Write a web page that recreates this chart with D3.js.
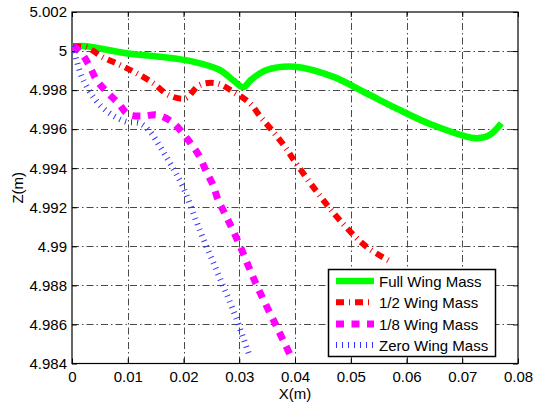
<!DOCTYPE html>
<html>
<head>
<meta charset="utf-8">
<script src="https://cdn.jsdelivr.net/npm/d3@7"></script>
<style>
  body{margin:0;background:#fff;}
  svg text{font-family:"Liberation Sans",Arial,sans-serif;fill:#000;}
</style>
</head>
<body>
<div id="chart"></div>
<script>
const xTicks=[0,0.01,0.02,0.03,0.04,0.05,0.06,0.07,0.08];
const yTicks=[4.984,4.986,4.988,4.99,4.992,4.994,4.996,4.998,5,5.002];

const seriesNames=["Full Wing Mass","1/2 Wing Mass","1/8 Wing Mass","Zero Wing Mass"];

const fullX=[0.0002,0.002,0.0098,0.0158,0.0217,0.0265,0.0290,0.0307,0.0322,0.0349,0.0400,0.0468,0.0528,0.0588,0.0647,0.0725,0.0749,0.0770];
const fullY=[5.00022,5.00026,4.99989,4.99971,4.99946,4.99903,4.99848,4.99815,4.99855,4.99903,4.99920,4.99869,4.99784,4.99698,4.99621,4.99553,4.99570,4.99630];

const halfX=[0.0002,0.0026,0.0056,0.0086,0.0116,0.0146,0.0173,0.0203,0.0229,0.0259,0.0289,0.0319,0.0340,0.0361,0.0382,0.0400,0.0439,0.0480,0.0528,0.0573];
const halfY=[5.00025,5.00019,4.99968,4.99929,4.99886,4.99835,4.99775,4.99758,4.99826,4.99835,4.99792,4.99733,4.99656,4.99587,4.99510,4.99433,4.99280,4.99135,4.98998,4.98920];

const eighthX=[0.0002,0.0017,0.0032,0.0044,0.0062,0.0083,0.0101,0.0128,0.0152,0.0179,0.0199,0.0215,0.0229,0.0241,0.0253,0.0262,0.0274,0.0298,0.0331,0.0367,0.0394];
const eighthY=[5.00026,4.99989,4.99920,4.99852,4.99792,4.99733,4.99676,4.99667,4.99673,4.99638,4.99579,4.99519,4.99459,4.99382,4.99314,4.99237,4.99169,4.99024,4.98802,4.98589,4.98428];

const zeroX=[0.0002,0.0008,0.0020,0.0038,0.0056,0.0077,0.0098,0.0122,0.0140,0.0158,0.0176,0.0199,0.0229,0.0259,0.0289,0.0319];
const zeroY=[5.00026,4.99954,4.99852,4.99766,4.99707,4.99664,4.99638,4.99630,4.99587,4.99510,4.99425,4.99305,4.99084,4.98879,4.98674,4.98435];

const w=533, h=404;
const pLeft=72, pRight=518, pTop=12, pBottom=363.5;

const xScale=d3.scaleLinear().domain([0,0.08]).range([pLeft,pRight]);
const yScale=d3.scaleLinear().domain([4.984,5.002]).range([pBottom,pTop]);

const svg=d3.select("#chart").append("svg").attr("width",w).attr("height",h);

// grid
const grid=svg.append("g").attr("stroke","#4a4a4a").attr("stroke-width",1).attr("stroke-dasharray","7,3,1.5,3");
grid.selectAll("line.gx").data(xTicks.slice(1,-1)).enter().append("line")
    .attr("x1",d=>Math.round(xScale(d))+0.5).attr("x2",d=>Math.round(xScale(d))+0.5)
    .attr("y1",pBottom).attr("y2",pTop);
grid.selectAll("line.gy").data(yTicks.slice(1,-1)).enter().append("line")
    .attr("y1",d=>Math.round(yScale(d))+0.5).attr("y2",d=>Math.round(yScale(d))+0.5)
    .attr("x1",pLeft).attr("x2",pRight);

// axes
const fmt=d=>d3.format("")(+d.toFixed(3));
const xAxis=d3.axisBottom(xScale).tickValues(xTicks).tickSizeInner(-5).tickSizeOuter(0).tickPadding(7.5).tickFormat(fmt);
const yAxis=d3.axisLeft(yScale).tickValues(yTicks).tickSizeInner(-5).tickSizeOuter(0).tickPadding(5).tickFormat(fmt);
const xTop=d3.axisTop(xScale).tickValues(xTicks).tickSizeInner(-5).tickSizeOuter(0).tickFormat("");
const yRight=d3.axisRight(yScale).tickValues(yTicks).tickSizeInner(-5).tickSizeOuter(0).tickFormat("");

const gx=svg.append("g").attr("transform",`translate(0,${pBottom})`).call(xAxis);
const gy=svg.append("g").attr("transform",`translate(${pLeft},0)`).call(yAxis);
svg.append("g").attr("transform",`translate(0,${pTop})`).call(xTop);
svg.append("g").attr("transform",`translate(${pRight},0)`).call(yRight);
svg.selectAll(".domain").remove();
svg.selectAll(".tick line").attr("stroke","#000");
gx.selectAll("text").style("font-size","15px");
gy.selectAll("text").style("font-size","15px");

svg.append("rect").attr("x",pLeft).attr("y",pTop).attr("width",pRight-pLeft).attr("height",pBottom-pTop)
    .attr("fill","none").attr("stroke","#000").attr("stroke-width",1.2);

// clip
svg.append("clipPath").attr("id","clip").append("rect")
    .attr("x",pLeft).attr("y",pTop).attr("width",pRight-pLeft).attr("height",pBottom-pTop);

const styles=[
  {color:"#00ff00",width:6.5,dash:null},
  {color:"#ff0000",width:6,dash:"8,5,1,5"},
  {color:"#ff00ff",width:7,dash:"8,7.5"},
  {color:"#3333ff",width:6,dash:"1,5"}
];
const series=[
  d3.zip(fullX,fullY),
  d3.zip(halfX,halfY),
  d3.zip(eighthX,eighthY),
  d3.zip(zeroX,zeroY)
];

const line=d3.line().x(d=>xScale(d[0])).y(d=>yScale(d[1])).curve(d3.curveCatmullRom.alpha(0.5));
const plot=svg.append("g").attr("clip-path","url(#clip)");
series.forEach((s,i)=>{
  plot.append("path").datum(s).attr("d",line)
      .attr("fill","none")
      .attr("stroke",styles[i].color)
      .attr("stroke-width",styles[i].width)
      .attr("stroke-dasharray",styles[i].dash)
      .attr("stroke-linejoin","round");
});

// labels
svg.append("text").text("X(m)").attr("x",(pLeft+pRight)/2).attr("y",399)
    .attr("text-anchor","middle").style("font-size","15px");
svg.append("text").text("Z(m)").attr("transform",`translate(23,${(pTop+pBottom)/2}) rotate(-90)`)
    .attr("text-anchor","middle").style("font-size","15px");

// legend
const lg=svg.append("g");
lg.append("rect").attr("x",328.5).attr("y",269.5).attr("width",167).attr("height",87)
    .attr("fill","#fff").attr("stroke","#000").attr("stroke-width",1.5);
const rowY=[281,302.3,324,345];
seriesNames.forEach((name,i)=>{
  lg.append("line").attr("x1",336).attr("x2",374).attr("y1",rowY[i]).attr("y2",rowY[i])
      .attr("stroke",styles[i].color).attr("stroke-width",styles[i].width)
      .attr("stroke-dasharray",styles[i].dash);
  lg.append("text").text(name).attr("x",379).attr("y",rowY[i]+5.5).style("font-size","15px");
});
</script>
</body>
</html>
